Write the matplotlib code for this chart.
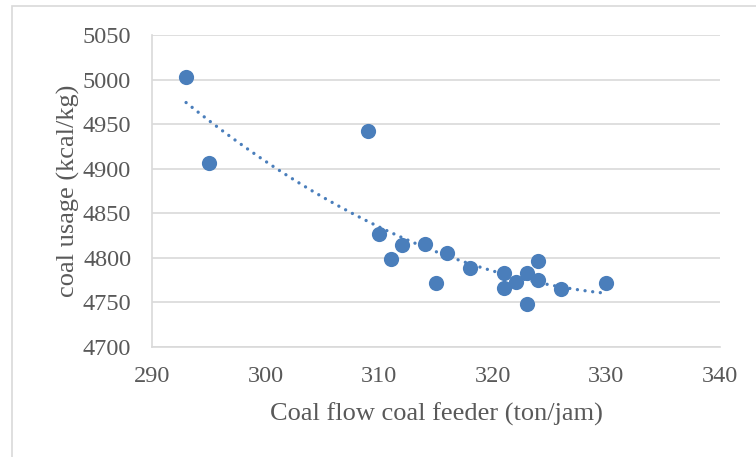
import matplotlib
matplotlib.use('Agg')
import matplotlib.pyplot as plt
import numpy as np
from matplotlib.patches import Rectangle

# data
flow = [293, 295, 309, 310, 311, 312, 314, 315, 316, 318,
        321, 321, 322, 323, 323, 324, 324, 326, 330]
usage = [5003, 4906, 4942, 4827, 4799, 4814, 4816, 4772, 4805, 4789,
         4783, 4766, 4773, 4783, 4748, 4796, 4775, 4765, 4772]

x_ticks = [290, 300, 310, 320, 330, 340]
y_ticks = [4700, 4750, 4800, 4850, 4900, 4950, 5000, 5050]

plt.rcParams['font.family'] = ['Liberation Serif', 'DejaVu Serif']
gray = '#595959'
blue = '#4a7ebb'

fig = plt.figure(figsize=(7.56, 4.57), dpi=100)
ax = fig.add_axes([152 / 756, 1 - 347 / 457, (720 - 152) / 756, (347 - 35) / 457])

# chart border
fig.patches.append(Rectangle((12 / 756, -0.1), 1.1, 1 - 6 / 457 + 0.1,
                             transform=fig.transFigure, fill=False,
                             edgecolor='#d9d9d9', linewidth=1.2))

ax.scatter(flow, usage, s=120, color=blue, zorder=3, linewidths=0)

# polynomial trendline (order 2)
coef = np.polyfit(flow, usage, 2)
xs = np.linspace(min(flow), max(flow), 200)
ax.plot(xs, np.polyval(coef, xs), color=blue, linewidth=2.4,
        linestyle=(0, (0.01, 2.3)), dash_capstyle='round', zorder=2)

ax.set_xlim(290, 340)
ax.set_ylim(4700, 5050)
ax.set_xticks(x_ticks)
ax.set_yticks(y_ticks)
ax.grid(axis='y', color='#d9d9d9', linewidth=1.2)
ax.set_axisbelow(True)
for s in ['top', 'right']:
    ax.spines[s].set_visible(False)
for s in ['left', 'bottom']:
    ax.spines[s].set_color('#d9d9d9')
    ax.spines[s].set_linewidth(1.2)
ax.tick_params(length=0, labelsize=17.5, colors=gray)
ax.tick_params(axis='x', pad=14)
ax.tick_params(axis='y', pad=15)

ax.set_xlabel('Coal flow coal feeder (ton/jam)', fontsize=19, color=gray, labelpad=11)
ax.set_ylabel('coal usage (kcal/kg)', fontsize=19, color=gray, labelpad=2)

fig.savefig('out.png', dpi=100)
